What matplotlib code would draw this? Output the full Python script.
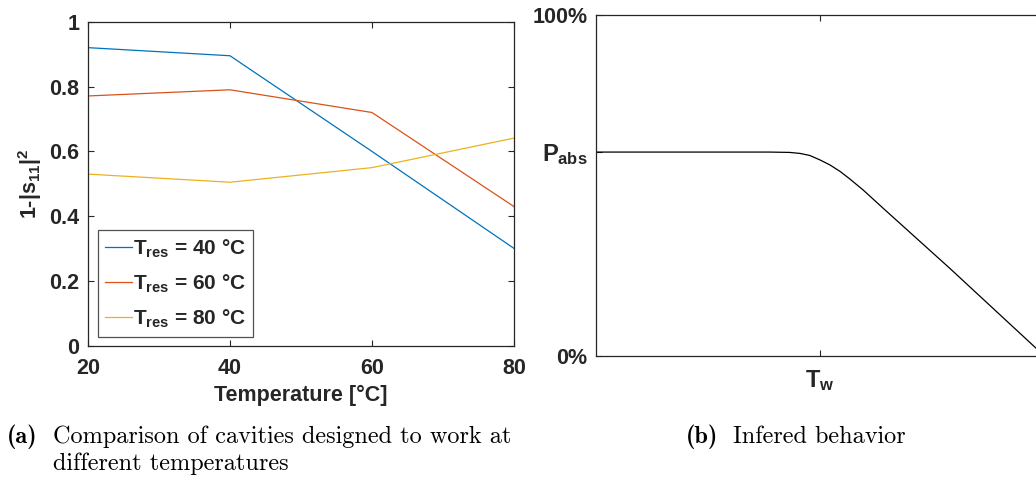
"""
Absorbed power vs. temperature: measured cavities (a) and inferred behaviour (b)
"""

import matplotlib
matplotlib.use("Agg")
import matplotlib.pyplot as plt

# =====================================================
# DATA
# =====================================================
temperature = [20, 40, 60, 80]
absorbed_40 = [0.920, 0.895, 0.600, 0.301]
absorbed_60 = [0.771, 0.790, 0.720, 0.430]
absorbed_80 = [0.530, 0.505, 0.550, 0.641]
series_labels = [r"$T_{res}$ = 40 °C", r"$T_{res}$ = 60 °C", r"$T_{res}$ = 80 °C"]

# sketch curve, normalised axes
sketch_x = [0.0, 0.395, 0.440, 0.464, 0.486, 0.509, 0.532, 0.555, 0.577,
            0.607, 0.652, 0.805, 1.0]
sketch_y = [0.598, 0.598, 0.597, 0.594, 0.588, 0.575, 0.560, 0.541, 0.519,
            0.487, 0.434, 0.256, 0.023]
sketch_yticks = [0.0, 0.598, 1.0]
sketch_yticklabels = ["0%", r"$P_{abs}$", "100%"]
sketch_xticks = [0.509]
sketch_xticklabels = [r"$T_w$"]

caption_a = ["Comparison of cavities designed to work at", "different temperatures"]
caption_b = ["Infered behavior"]

# =====================================================
# STYLE
# =====================================================
plt.rcParams["font.family"] = "Liberation Sans"
plt.rcParams["font.weight"] = "bold"
plt.rcParams["axes.labelweight"] = "bold"
plt.rcParams["mathtext.fontset"] = "custom"
plt.rcParams["mathtext.rm"] = "Liberation Sans:bold"
plt.rcParams["mathtext.it"] = "Liberation Sans:bold"
plt.rcParams["mathtext.bf"] = "Liberation Sans:bold"

AXIS_COLOR = "#262626"
COLORS = ["#0072BD", "#D95319", "#EDB120"]
FS = 15.5
CAP_FS = 17.5


def style_axes(ax):
    for s in ax.spines.values():
        s.set_color(AXIS_COLOR)
        s.set_linewidth(0.9)
    ax.tick_params(direction="in", top=True, right=True, length=4.5,
                   width=0.8, color=AXIS_COLOR, labelsize=FS,
                   labelcolor=AXIS_COLOR)


fig = plt.figure(figsize=(10.36, 4.79), dpi=100)

# =====================================================
# PANEL (a)
# =====================================================
ax1 = fig.add_axes([0.0849, 0.2777, 0.4112, 0.677])
for vals, lab, c in zip([absorbed_40, absorbed_60, absorbed_80], series_labels, COLORS):
    ax1.plot(temperature, vals, color=c, linewidth=0.9, label=lab)

ax1.set_xlim(20, 80)
ax1.set_ylim(0, 1)
ax1.set_xticks([20, 40, 60, 80])
ax1.set_yticks([0, 0.2, 0.4, 0.6, 0.8, 1])
ax1.set_yticklabels(["0", "0.2", "0.4", "0.6", "0.8", "1"])
style_axes(ax1)
ax1.tick_params(axis="x", pad=9)
ax1.tick_params(axis="y", pad=6)
ax1.set_xlabel("Temperature [°C]", fontsize=FS, color=AXIS_COLOR, labelpad=4)
ax1.set_ylabel(r"1-|s$_{11}$|$^2$", fontsize=FS, color=AXIS_COLOR, labelpad=4)

leg = ax1.legend(loc="lower left", bbox_to_anchor=(0.023, 0.028),
                 borderaxespad=0, fancybox=False, fontsize=15,
                 handlelength=1.3, handletextpad=0.05, labelspacing=0.6,
                 borderpad=0.35)
leg.get_frame().set_edgecolor(AXIS_COLOR)
leg.get_frame().set_linewidth(0.9)
for t in leg.get_texts():
    t.set_color(AXIS_COLOR)

# =====================================================
# PANEL (b)
# =====================================================
ax2 = fig.add_axes([0.5753, 0.2568, 0.4247, 0.7119])
ax2.plot(sketch_x, sketch_y, color="black", linewidth=0.9)
ax2.set_xlim(0, 1)
ax2.set_ylim(0, 1)
ax2.set_xticks(sketch_xticks)
ax2.set_xticklabels(sketch_xticklabels)
ax2.set_yticks(sketch_yticks)
ax2.set_yticklabels(sketch_yticklabels)
style_axes(ax2)
ax2.spines["right"].set_visible(False)
ax2.tick_params(axis="y", right=False, pad=6)
ax2.tick_params(axis="x", pad=9)
ax2.get_yticklabels()[1].set_fontsize(17)
ax2.get_xticklabels()[0].set_fontsize(17)

# =====================================================
# CAPTIONS
# =====================================================
base1 = 1 - 443 / 479
base2 = 1 - 470 / 479
fig.text(7 / 1036, base1, "(a)", family="cmb10", fontsize=CAP_FS, va="baseline")
fig.text(53 / 1036, base1, caption_a[0], family="cmr10", fontsize=CAP_FS, va="baseline")
fig.text(53 / 1036, base2, caption_a[1], family="cmr10", fontsize=CAP_FS, va="baseline")
fig.text(686 / 1036, base1, "(b)", family="cmb10", fontsize=CAP_FS, va="baseline")
fig.text(733 / 1036, base1, caption_b[0], family="cmr10", fontsize=CAP_FS, va="baseline")

fig.savefig("out.png", dpi=100)
